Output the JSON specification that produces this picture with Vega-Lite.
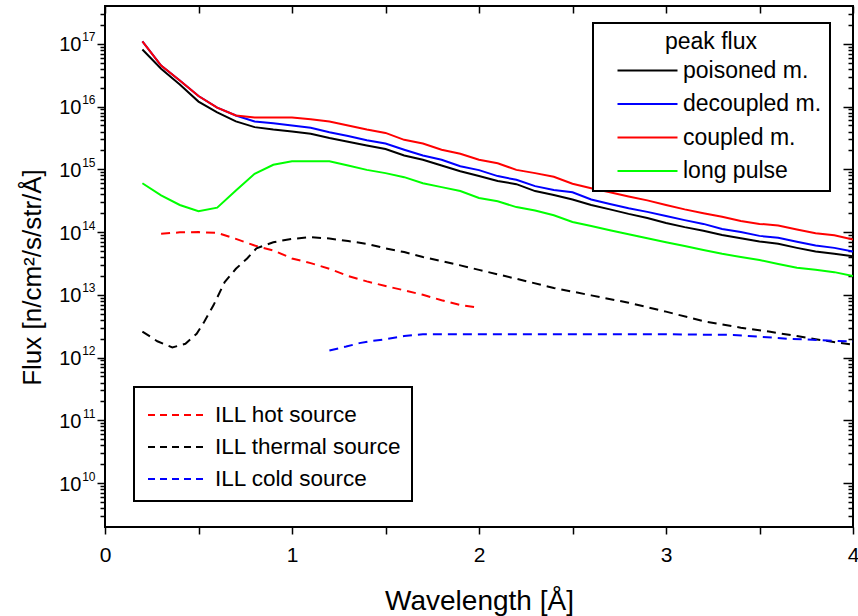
{
  "$schema": "https://vega.github.io/schema/vega-lite/v6.json",
  "width": 748,
  "height": 521,
  "autosize": {"type": "none"},
  "padding": {"left": 105, "top": 6, "right": 5, "bottom": 89},
  "background": "white",
  "config": {
    "font": "Liberation Sans",
    "view": {"stroke": "black", "strokeWidth": 2},
    "axis": {"domain": false, "grid": false, "tickColor": "black", "tickWidth": 1.5, "labelColor": "black", "titleColor": "black", "titleFontWeight": "normal", "labelFont": "Liberation Sans", "titleFont": "Liberation Sans"},
    "legend": {"labelFont": "Liberation Sans", "titleFont": "Liberation Sans", "labelColor": "black", "titleColor": "black", "labelLimit": 400}
  },
  "datasets": {
    "solid": [
      {"lambda": 0.2, "flux": 8.1e16, "series": "poisoned m."},
      {"lambda": 0.3, "flux": 4.0e16, "series": "poisoned m."},
      {"lambda": 0.4, "flux": 2.25e16, "series": "poisoned m."},
      {"lambda": 0.5, "flux": 1.2e16, "series": "poisoned m."},
      {"lambda": 0.6, "flux": 8.1e15, "series": "poisoned m."},
      {"lambda": 0.7, "flux": 5.8e15, "series": "poisoned m."},
      {"lambda": 0.8, "flux": 4.7e15, "series": "poisoned m."},
      {"lambda": 0.9, "flux": 4.3e15, "series": "poisoned m."},
      {"lambda": 1.0, "flux": 4.0e15, "series": "poisoned m."},
      {"lambda": 1.1, "flux": 3.7e15, "series": "poisoned m."},
      {"lambda": 1.2, "flux": 3.15e15, "series": "poisoned m."},
      {"lambda": 1.3, "flux": 2.75e15, "series": "poisoned m."},
      {"lambda": 1.4, "flux": 2.4e15, "series": "poisoned m."},
      {"lambda": 1.5, "flux": 2.1e15, "series": "poisoned m."},
      {"lambda": 1.6, "flux": 1.66e15, "series": "poisoned m."},
      {"lambda": 1.7, "flux": 1.42e15, "series": "poisoned m."},
      {"lambda": 1.8, "flux": 1.15e15, "series": "poisoned m."},
      {"lambda": 1.9, "flux": 9.3e14, "series": "poisoned m."},
      {"lambda": 2.0, "flux": 7.8e14, "series": "poisoned m."},
      {"lambda": 2.1, "flux": 6.5e14, "series": "poisoned m."},
      {"lambda": 2.2, "flux": 5.8e14, "series": "poisoned m."},
      {"lambda": 2.3, "flux": 4.5e14, "series": "poisoned m."},
      {"lambda": 2.4, "flux": 3.9e14, "series": "poisoned m."},
      {"lambda": 2.5, "flux": 3.3e14, "series": "poisoned m."},
      {"lambda": 2.6, "flux": 2.7e14, "series": "poisoned m."},
      {"lambda": 2.7, "flux": 2.3e14, "series": "poisoned m."},
      {"lambda": 2.8, "flux": 1.95e14, "series": "poisoned m."},
      {"lambda": 2.9, "flux": 1.68e14, "series": "poisoned m."},
      {"lambda": 3.0, "flux": 1.4e14, "series": "poisoned m."},
      {"lambda": 3.1, "flux": 1.2e14, "series": "poisoned m."},
      {"lambda": 3.2, "flux": 1.05e14, "series": "poisoned m."},
      {"lambda": 3.3, "flux": 9.0e13, "series": "poisoned m."},
      {"lambda": 3.4, "flux": 8.0e13, "series": "poisoned m."},
      {"lambda": 3.5, "flux": 7.1e13, "series": "poisoned m."},
      {"lambda": 3.6, "flux": 6.5e13, "series": "poisoned m."},
      {"lambda": 3.7, "flux": 5.6e13, "series": "poisoned m."},
      {"lambda": 3.8, "flux": 4.9e13, "series": "poisoned m."},
      {"lambda": 3.9, "flux": 4.5e13, "series": "poisoned m."},
      {"lambda": 4.0, "flux": 4.1e13, "series": "poisoned m."},
      {"lambda": 0.2, "flux": 1.09e17, "series": "decoupled m."},
      {"lambda": 0.3, "flux": 4.5e16, "series": "decoupled m."},
      {"lambda": 0.4, "flux": 2.6e16, "series": "decoupled m."},
      {"lambda": 0.5, "flux": 1.47e16, "series": "decoupled m."},
      {"lambda": 0.6, "flux": 9.6e15, "series": "decoupled m."},
      {"lambda": 0.7, "flux": 7.2e15, "series": "decoupled m."},
      {"lambda": 0.8, "flux": 5.8e15, "series": "decoupled m."},
      {"lambda": 0.9, "flux": 5.4e15, "series": "decoupled m."},
      {"lambda": 1.0, "flux": 5.0e15, "series": "decoupled m."},
      {"lambda": 1.1, "flux": 4.6e15, "series": "decoupled m."},
      {"lambda": 1.2, "flux": 3.9e15, "series": "decoupled m."},
      {"lambda": 1.3, "flux": 3.4e15, "series": "decoupled m."},
      {"lambda": 1.4, "flux": 2.9e15, "series": "decoupled m."},
      {"lambda": 1.5, "flux": 2.57e15, "series": "decoupled m."},
      {"lambda": 1.6, "flux": 2.05e15, "series": "decoupled m."},
      {"lambda": 1.7, "flux": 1.66e15, "series": "decoupled m."},
      {"lambda": 1.8, "flux": 1.42e15, "series": "decoupled m."},
      {"lambda": 1.9, "flux": 1.12e15, "series": "decoupled m."},
      {"lambda": 2.0, "flux": 9.7e14, "series": "decoupled m."},
      {"lambda": 2.1, "flux": 7.8e14, "series": "decoupled m."},
      {"lambda": 2.2, "flux": 6.8e14, "series": "decoupled m."},
      {"lambda": 2.3, "flux": 5.4e14, "series": "decoupled m."},
      {"lambda": 2.4, "flux": 4.7e14, "series": "decoupled m."},
      {"lambda": 2.5, "flux": 4.3e14, "series": "decoupled m."},
      {"lambda": 2.6, "flux": 3.3e14, "series": "decoupled m."},
      {"lambda": 2.7, "flux": 2.8e14, "series": "decoupled m."},
      {"lambda": 2.8, "flux": 2.4e14, "series": "decoupled m."},
      {"lambda": 2.9, "flux": 2.1e14, "series": "decoupled m."},
      {"lambda": 3.0, "flux": 1.8e14, "series": "decoupled m."},
      {"lambda": 3.1, "flux": 1.55e14, "series": "decoupled m."},
      {"lambda": 3.2, "flux": 1.35e14, "series": "decoupled m."},
      {"lambda": 3.3, "flux": 1.12e14, "series": "decoupled m."},
      {"lambda": 3.4, "flux": 1.0e14, "series": "decoupled m."},
      {"lambda": 3.5, "flux": 8.7e13, "series": "decoupled m."},
      {"lambda": 3.6, "flux": 8.1e13, "series": "decoupled m."},
      {"lambda": 3.7, "flux": 7.0e13, "series": "decoupled m."},
      {"lambda": 3.8, "flux": 6.1e13, "series": "decoupled m."},
      {"lambda": 3.9, "flux": 5.6e13, "series": "decoupled m."},
      {"lambda": 4.0, "flux": 4.9e13, "series": "decoupled m."},
      {"lambda": 0.2, "flux": 1.09e17, "series": "coupled m."},
      {"lambda": 0.3, "flux": 4.5e16, "series": "coupled m."},
      {"lambda": 0.4, "flux": 2.6e16, "series": "coupled m."},
      {"lambda": 0.5, "flux": 1.47e16, "series": "coupled m."},
      {"lambda": 0.6, "flux": 9.6e15, "series": "coupled m."},
      {"lambda": 0.7, "flux": 7.2e15, "series": "coupled m."},
      {"lambda": 0.8, "flux": 6.7e15, "series": "coupled m."},
      {"lambda": 0.9, "flux": 6.7e15, "series": "coupled m."},
      {"lambda": 1.0, "flux": 6.7e15, "series": "coupled m."},
      {"lambda": 1.1, "flux": 6.3e15, "series": "coupled m."},
      {"lambda": 1.2, "flux": 5.8e15, "series": "coupled m."},
      {"lambda": 1.3, "flux": 5.0e15, "series": "coupled m."},
      {"lambda": 1.4, "flux": 4.3e15, "series": "coupled m."},
      {"lambda": 1.5, "flux": 3.8e15, "series": "coupled m."},
      {"lambda": 1.6, "flux": 2.95e15, "series": "coupled m."},
      {"lambda": 1.7, "flux": 2.57e15, "series": "coupled m."},
      {"lambda": 1.8, "flux": 2.05e15, "series": "coupled m."},
      {"lambda": 1.9, "flux": 1.77e15, "series": "coupled m."},
      {"lambda": 2.0, "flux": 1.42e15, "series": "coupled m."},
      {"lambda": 2.1, "flux": 1.25e15, "series": "coupled m."},
      {"lambda": 2.2, "flux": 9.8e14, "series": "coupled m."},
      {"lambda": 2.3, "flux": 8.7e14, "series": "coupled m."},
      {"lambda": 2.4, "flux": 7.6e14, "series": "coupled m."},
      {"lambda": 2.5, "flux": 5.9e14, "series": "coupled m."},
      {"lambda": 2.6, "flux": 5.0e14, "series": "coupled m."},
      {"lambda": 2.7, "flux": 4.3e14, "series": "coupled m."},
      {"lambda": 2.8, "flux": 3.7e14, "series": "coupled m."},
      {"lambda": 2.9, "flux": 3.2e14, "series": "coupled m."},
      {"lambda": 3.0, "flux": 2.7e14, "series": "coupled m."},
      {"lambda": 3.1, "flux": 2.3e14, "series": "coupled m."},
      {"lambda": 3.2, "flux": 2.0e14, "series": "coupled m."},
      {"lambda": 3.3, "flux": 1.75e14, "series": "coupled m."},
      {"lambda": 3.4, "flux": 1.5e14, "series": "coupled m."},
      {"lambda": 3.5, "flux": 1.35e14, "series": "coupled m."},
      {"lambda": 3.6, "flux": 1.27e14, "series": "coupled m."},
      {"lambda": 3.7, "flux": 1.1e14, "series": "coupled m."},
      {"lambda": 3.8, "flux": 9.6e13, "series": "coupled m."},
      {"lambda": 3.9, "flux": 8.9e13, "series": "coupled m."},
      {"lambda": 4.0, "flux": 7.6e13, "series": "coupled m."},
      {"lambda": 0.2, "flux": 6.0e14, "series": "long pulse"},
      {"lambda": 0.3, "flux": 3.85e14, "series": "long pulse"},
      {"lambda": 0.4, "flux": 2.7e14, "series": "long pulse"},
      {"lambda": 0.5, "flux": 2.15e14, "series": "long pulse"},
      {"lambda": 0.6, "flux": 2.45e14, "series": "long pulse"},
      {"lambda": 0.7, "flux": 4.6e14, "series": "long pulse"},
      {"lambda": 0.8, "flux": 8.5e14, "series": "long pulse"},
      {"lambda": 0.9, "flux": 1.18e15, "series": "long pulse"},
      {"lambda": 1.0, "flux": 1.34e15, "series": "long pulse"},
      {"lambda": 1.1, "flux": 1.34e15, "series": "long pulse"},
      {"lambda": 1.2, "flux": 1.34e15, "series": "long pulse"},
      {"lambda": 1.3, "flux": 1.15e15, "series": "long pulse"},
      {"lambda": 1.4, "flux": 9.8e14, "series": "long pulse"},
      {"lambda": 1.5, "flux": 8.7e14, "series": "long pulse"},
      {"lambda": 1.6, "flux": 7.5e14, "series": "long pulse"},
      {"lambda": 1.7, "flux": 6.0e14, "series": "long pulse"},
      {"lambda": 1.8, "flux": 5.2e14, "series": "long pulse"},
      {"lambda": 1.9, "flux": 4.5e14, "series": "long pulse"},
      {"lambda": 2.0, "flux": 3.5e14, "series": "long pulse"},
      {"lambda": 2.1, "flux": 3.1e14, "series": "long pulse"},
      {"lambda": 2.2, "flux": 2.5e14, "series": "long pulse"},
      {"lambda": 2.3, "flux": 2.2e14, "series": "long pulse"},
      {"lambda": 2.4, "flux": 1.85e14, "series": "long pulse"},
      {"lambda": 2.5, "flux": 1.45e14, "series": "long pulse"},
      {"lambda": 2.6, "flux": 1.25e14, "series": "long pulse"},
      {"lambda": 2.7, "flux": 1.07e14, "series": "long pulse"},
      {"lambda": 2.8, "flux": 9.2e13, "series": "long pulse"},
      {"lambda": 2.9, "flux": 8.0e13, "series": "long pulse"},
      {"lambda": 3.0, "flux": 6.9e13, "series": "long pulse"},
      {"lambda": 3.1, "flux": 6.0e13, "series": "long pulse"},
      {"lambda": 3.2, "flux": 5.2e13, "series": "long pulse"},
      {"lambda": 3.3, "flux": 4.5e13, "series": "long pulse"},
      {"lambda": 3.4, "flux": 4.0e13, "series": "long pulse"},
      {"lambda": 3.5, "flux": 3.6e13, "series": "long pulse"},
      {"lambda": 3.6, "flux": 3.1e13, "series": "long pulse"},
      {"lambda": 3.7, "flux": 2.7e13, "series": "long pulse"},
      {"lambda": 3.8, "flux": 2.5e13, "series": "long pulse"},
      {"lambda": 3.9, "flux": 2.3e13, "series": "long pulse"},
      {"lambda": 4.0, "flux": 2.0e13, "series": "long pulse"}
    ],
    "dashed": [
      {"lambda": 0.3, "flux": 9.4e13, "series": "ILL hot source"},
      {"lambda": 0.4, "flux": 9.9e13, "series": "ILL hot source"},
      {"lambda": 0.5, "flux": 1.0e14, "series": "ILL hot source"},
      {"lambda": 0.6, "flux": 9.7e13, "series": "ILL hot source"},
      {"lambda": 0.7, "flux": 7.8e13, "series": "ILL hot source"},
      {"lambda": 0.8, "flux": 6.1e13, "series": "ILL hot source"},
      {"lambda": 0.9, "flux": 5.1e13, "series": "ILL hot source"},
      {"lambda": 1.0, "flux": 3.8e13, "series": "ILL hot source"},
      {"lambda": 1.1, "flux": 3.2e13, "series": "ILL hot source"},
      {"lambda": 1.2, "flux": 2.6e13, "series": "ILL hot source"},
      {"lambda": 1.3, "flux": 2.0e13, "series": "ILL hot source"},
      {"lambda": 1.4, "flux": 1.64e13, "series": "ILL hot source"},
      {"lambda": 1.5, "flux": 1.38e13, "series": "ILL hot source"},
      {"lambda": 1.6, "flux": 1.18e13, "series": "ILL hot source"},
      {"lambda": 1.7, "flux": 1.0e13, "series": "ILL hot source"},
      {"lambda": 1.8, "flux": 8.2e12, "series": "ILL hot source"},
      {"lambda": 1.9, "flux": 6.9e12, "series": "ILL hot source"},
      {"lambda": 2.0, "flux": 6.2e12, "series": "ILL hot source"},
      {"lambda": 0.2, "flux": 2.6e12, "series": "ILL thermal source"},
      {"lambda": 0.28, "flux": 1.82e12, "series": "ILL thermal source"},
      {"lambda": 0.36, "flux": 1.45e12, "series": "ILL thermal source"},
      {"lambda": 0.43, "flux": 1.66e12, "series": "ILL thermal source"},
      {"lambda": 0.49, "flux": 2.4e12, "series": "ILL thermal source"},
      {"lambda": 0.53, "flux": 3.7e12, "series": "ILL thermal source"},
      {"lambda": 0.58, "flux": 6.8e12, "series": "ILL thermal source"},
      {"lambda": 0.64, "flux": 1.6e13, "series": "ILL thermal source"},
      {"lambda": 0.7, "flux": 2.6e13, "series": "ILL thermal source"},
      {"lambda": 0.76, "flux": 3.8e13, "series": "ILL thermal source"},
      {"lambda": 0.81, "flux": 5.5e13, "series": "ILL thermal source"},
      {"lambda": 0.9, "flux": 6.9e13, "series": "ILL thermal source"},
      {"lambda": 1.0, "flux": 7.8e13, "series": "ILL thermal source"},
      {"lambda": 1.1, "flux": 8.3e13, "series": "ILL thermal source"},
      {"lambda": 1.2, "flux": 7.9e13, "series": "ILL thermal source"},
      {"lambda": 1.3, "flux": 7.2e13, "series": "ILL thermal source"},
      {"lambda": 1.4, "flux": 6.5e13, "series": "ILL thermal source"},
      {"lambda": 1.5, "flux": 5.5e13, "series": "ILL thermal source"},
      {"lambda": 1.6, "flux": 4.8e13, "series": "ILL thermal source"},
      {"lambda": 1.7, "flux": 4.0e13, "series": "ILL thermal source"},
      {"lambda": 1.8, "flux": 3.45e13, "series": "ILL thermal source"},
      {"lambda": 1.9, "flux": 2.95e13, "series": "ILL thermal source"},
      {"lambda": 2.0, "flux": 2.5e13, "series": "ILL thermal source"},
      {"lambda": 2.2, "flux": 1.8e13, "series": "ILL thermal source"},
      {"lambda": 2.4, "flux": 1.29e13, "series": "ILL thermal source"},
      {"lambda": 2.6, "flux": 9.8e12, "series": "ILL thermal source"},
      {"lambda": 2.8, "flux": 7.5e12, "series": "ILL thermal source"},
      {"lambda": 3.0, "flux": 5.4e12, "series": "ILL thermal source"},
      {"lambda": 3.2, "flux": 3.8e12, "series": "ILL thermal source"},
      {"lambda": 3.4, "flux": 3.0e12, "series": "ILL thermal source"},
      {"lambda": 3.55, "flux": 2.6e12, "series": "ILL thermal source"},
      {"lambda": 3.7, "flux": 2.2e12, "series": "ILL thermal source"},
      {"lambda": 3.8, "flux": 1.96e12, "series": "ILL thermal source"},
      {"lambda": 4.0, "flux": 1.6e12, "series": "ILL thermal source"},
      {"lambda": 1.2, "flux": 1.3e12, "series": "ILL cold source"},
      {"lambda": 1.29, "flux": 1.5e12, "series": "ILL cold source"},
      {"lambda": 1.36, "flux": 1.7e12, "series": "ILL cold source"},
      {"lambda": 1.43, "flux": 1.85e12, "series": "ILL cold source"},
      {"lambda": 1.5, "flux": 1.96e12, "series": "ILL cold source"},
      {"lambda": 1.6, "flux": 2.2e12, "series": "ILL cold source"},
      {"lambda": 1.7, "flux": 2.35e12, "series": "ILL cold source"},
      {"lambda": 2.0, "flux": 2.35e12, "series": "ILL cold source"},
      {"lambda": 2.5, "flux": 2.35e12, "series": "ILL cold source"},
      {"lambda": 3.0, "flux": 2.35e12, "series": "ILL cold source"},
      {"lambda": 3.36, "flux": 2.3e12, "series": "ILL cold source"},
      {"lambda": 3.5, "flux": 2.15e12, "series": "ILL cold source"},
      {"lambda": 3.65, "flux": 2.0e12, "series": "ILL cold source"},
      {"lambda": 4.0, "flux": 1.8e12, "series": "ILL cold source"}
    ]
  },
  "layer": [
    {
      "data": {"name": "solid"},
      "mark": {"type": "line", "strokeWidth": 2, "clip": true},
      "encoding": {
        "x": {"field": "lambda", "type": "quantitative", "scale": {"domain": [0, 4], "nice": false, "zero": false},
          "axis": {"orient": "bottom", "values": [0, 0.5, 1, 1.5, 2, 2.5, 3, 3.5, 4], "labelExpr": "datum.value % 1 == 0 ? format(datum.value, 'd') : ''", "tickSize": 7, "labelFontSize": 21, "labelPadding": 10, "labelFlush": false, "title": "Wavelength [Å]", "titleFontSize": 28, "titlePadding": 22}},
        "y": {"field": "flux", "type": "quantitative", "scale": {"type": "log", "domain": [2e9, 4e17], "nice": false},
          "axis": {"orient": "left", "values": [1e10, 1e11, 1e12, 1e13, 1e14, 1e15, 1e16, 1e17], "labelExpr": "'10'", "tickSize": 8, "labelFontSize": 20, "labelPadding": 16, "labelBaseline": "middle", "labelOffset": 1, "title": "Flux [n/cm²/s/str/Å]", "titleFontSize": 26, "titlePadding": 13, "titleY": 271}},
        "stroke": {"field": "series", "type": "nominal",
          "scale": {"domain": ["poisoned m.", "decoupled m.", "coupled m.", "long pulse"], "range": ["#000000", "#0000ff", "#ff0000", "#00ff00"]},
          "legend": {"orient": "none", "legendX": 488, "legendY": 17, "title": "peak flux", "titleAnchor": "middle", "titleFontSize": 23, "titleFontWeight": "normal", "labelFontSize": 23, "symbolType": "M-3,0H3", "symbolSize": 400, "symbolStrokeWidth": 2, "strokeColor": "black", "fillColor": "white", "padding": 8, "symbolOffset": 35, "labelOffset": 24, "rowPadding": 9.5, "titlePadding": 5,
            "encode": {"legend": {"update": {"strokeWidth": {"value": 2}}}}}
        }
      }
    },
    {
      "data": {"name": "dashed"},
      "mark": {"type": "line", "strokeWidth": 2, "strokeDash": [9, 6], "clip": true},
      "encoding": {
        "x": {"field": "lambda", "type": "quantitative",
          "axis": {"orient": "top", "values": [0, 0.5, 1, 1.5, 2, 2.5, 3, 3.5, 4], "labels": false, "tickSize": -7, "title": null}},
        "y": {"field": "flux", "type": "quantitative",
          "axis": {"orient": "right", "values": [1e10, 1e11, 1e12, 1e13, 1e14, 1e15, 1e16, 1e17], "labels": false, "tickSize": -10, "title": null}},
        "color": {"field": "series", "type": "nominal",
          "scale": {"domain": ["ILL hot source", "ILL thermal source", "ILL cold source"], "range": ["#ff0000", "#000000", "#0000ff"]},
          "legend": {"orient": "none", "legendX": 29, "legendY": 381, "title": null, "labelFontSize": 22.5, "symbolType": "M-1.735,0H1.735", "symbolSize": 1156, "symbolStrokeWidth": 2, "symbolDash": [7, 5], "strokeColor": "black", "fillColor": "white", "padding": 10, "symbolOffset": 15.5, "labelOffset": 19.5, "rowPadding": 2,
            "encode": {"legend": {"update": {"strokeWidth": {"value": 2}}}}}
        }
      }
    },
    {
      "data": {"name": "solid"},
      "mark": {"type": "line", "opacity": 0},
      "encoding": {
        "x": {"field": "lambda", "type": "quantitative", "axis": null},
        "y": {"field": "flux", "type": "quantitative",
          "axis": {"orient": "left", "values": [1e10, 1e11, 1e12, 1e13, 1e14, 1e15, 1e16, 1e17], "labelExpr": "format(round(log(datum.value) / LN10), 'd')", "ticks": false, "labelFontSize": 12, "labelPadding": 10, "labelBaseline": "middle", "labelOffset": -7, "title": null}}
      }
    },
    {
      "data": {"name": "solid"},
      "mark": {"type": "line", "opacity": 0},
      "encoding": {
        "x": {"field": "lambda", "type": "quantitative", "axis": null},
        "y": {"field": "flux", "type": "quantitative",
          "axis": {"orient": "left", "values": [3e9, 4e9, 5e9, 6e9, 7e9, 8e9, 9e9, 2e10, 3e10, 4e10, 5e10, 6e10, 7e10, 8e10, 9e10, 2e11, 3e11, 4e11, 5e11, 6e11, 7e11, 8e11, 9e11, 2e12, 3e12, 4e12, 5e12, 6e12, 7e12, 8e12, 9e12, 2e13, 3e13, 4e13, 5e13, 6e13, 7e13, 8e13, 9e13, 2e14, 3e14, 4e14, 5e14, 6e14, 7e14, 8e14, 9e14, 2e15, 3e15, 4e15, 5e15, 6e15, 7e15, 8e15, 9e15, 2e16, 3e16, 4e16, 5e16, 6e16, 7e16, 8e16, 9e16, 2e17, 3e17], "labels": false, "tickSize": 5, "title": null}}
      }
    },
    {
      "data": {"name": "solid"},
      "mark": {"type": "line", "opacity": 0},
      "encoding": {
        "x": {"field": "lambda", "type": "quantitative", "axis": null},
        "y": {"field": "flux", "type": "quantitative",
          "axis": {"orient": "right", "values": [3e9, 4e9, 5e9, 6e9, 7e9, 8e9, 9e9, 2e10, 3e10, 4e10, 5e10, 6e10, 7e10, 8e10, 9e10, 2e11, 3e11, 4e11, 5e11, 6e11, 7e11, 8e11, 9e11, 2e12, 3e12, 4e12, 5e12, 6e12, 7e12, 8e12, 9e12, 2e13, 3e13, 4e13, 5e13, 6e13, 7e13, 8e13, 9e13, 2e14, 3e14, 4e14, 5e14, 6e14, 7e14, 8e14, 9e14, 2e15, 3e15, 4e15, 5e15, 6e15, 7e15, 8e15, 9e15, 2e16, 3e16, 4e16, 5e16, 6e16, 7e16, 8e16, 9e16, 2e17, 3e17], "labels": false, "tickSize": -5, "title": null}}
      }
    }
  ],
  "resolve": {"axis": {"x": "independent", "y": "independent"}}
}
